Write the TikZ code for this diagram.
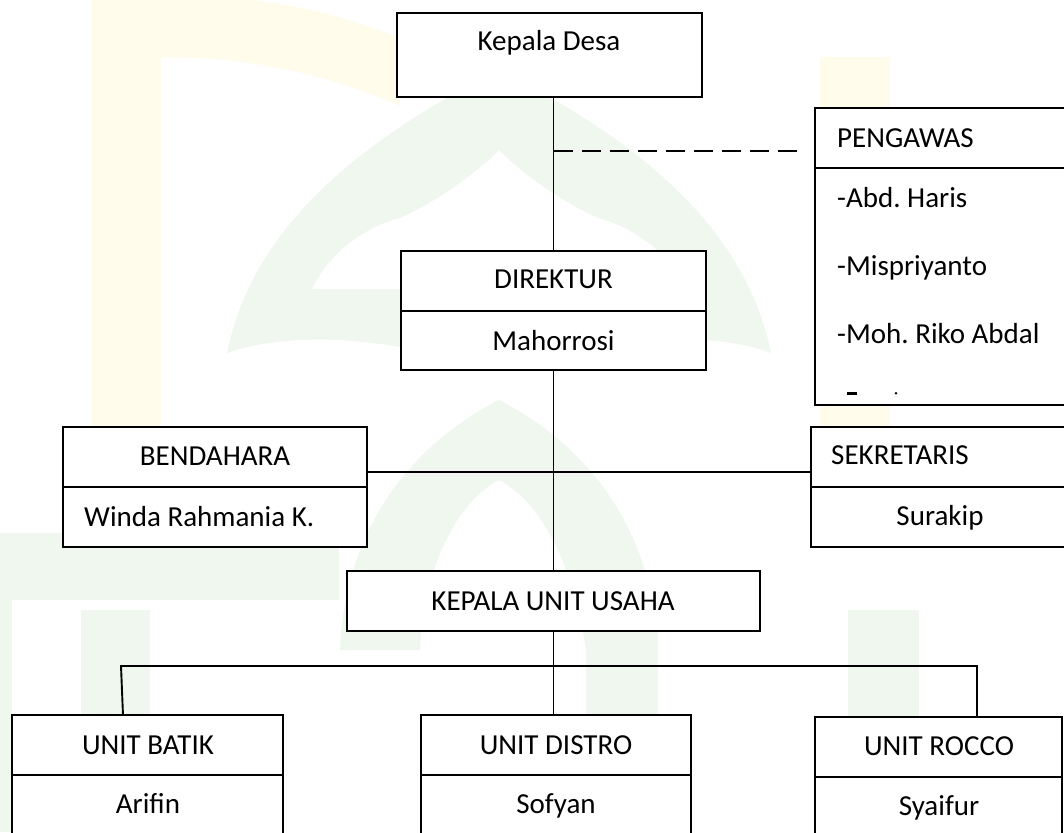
\documentclass[tikz,border=0pt]{standalone}
\usepackage{fontspec}
\setmainfont{Carlito}
\frenchspacing
\newcommand\orgfont{\fontsize{29}{34}\selectfont}
\definecolor{wmy}{HTML}{FFFCEC}
\definecolor{wmg}{HTML}{EFF7EF}
\tikzset{
  box/.style={draw=black, line width=2pt, fill=white, inner sep=0pt, outer sep=0pt, anchor=north west},
  txt/.style={font=\orgfont, inner sep=0pt, anchor=base},
  ltxt/.style={font=\orgfont, inner sep=0pt, anchor=base west},
  conn/.style={line width=1.9pt},
}
\begin{document}
\begin{tikzpicture}[x=1pt,y=-1pt]
\useasboundingbox (0,0) rectangle (1064,832);
% faint watermark
\fill[wmy] (92,0) rectangle (161,535);
\fill[wmy] (161,0) -- (250,0) .. controls (300,5) and (350,18) .. (400,38) -- (400,106) .. controls (330,75) and (250,57) .. (161,57) -- cycle;
\fill[wmy] (820,57) rectangle (890,500);
\fill[wmg, even odd rule] (227,353) .. controls (250,240) and (340,150) .. (499,70) .. controls (658,150) and (748,240) .. (771,353) .. controls (730,338) and (680,335) .. (600,347) -- (400,347) .. controls (330,335) and (270,338) .. (227,353) -- cycle
  (312,289) .. controls (330,250) and (370,225) .. (400,218) .. controls (440,200) and (480,170) .. (499,150) .. controls (518,170) and (558,200) .. (598,218) .. controls (628,225) and (668,250) .. (686,289) -- (312,289) -- cycle;
\fill[wmg, even odd rule] (340,650) .. controls (345,520) and (420,440) .. (499,400) .. controls (578,440) and (653,520) .. (658,650) -- cycle
  (420,650) .. controls (425,560) and (460,500) .. (499,480) .. controls (538,500) and (573,560) .. (586,650) -- cycle;
\fill[wmg] (0,533) rectangle (339,600);
\fill[wmg] (0,600) rectangle (12,832);
\fill[wmg] (81,610) rectangle (150,832);
\fill[wmg] (586,600) rectangle (658,832);
\fill[wmg] (848,610) rectangle (919,832);
% boxes
\node[box, minimum width=305pt, minimum height=84pt] (kd) at (397,13) {};
\node[box, minimum width=305pt, minimum height=60pt] (dir) at (401,251) {};
\node[box, minimum width=305pt, minimum height=59pt] (dirn) at (401,311) {};
\node[box, minimum width=265pt, minimum height=60pt] (peng) at (815,108) {};
\node[box, minimum width=265pt, minimum height=237pt] (pengn) at (815,168) {};
\node[box, minimum width=304pt, minimum height=60pt] (bend) at (63,427) {};
\node[box, minimum width=304pt, minimum height=60pt] (bendn) at (63,487) {};
\node[box, minimum width=258pt, minimum height=60pt] (sek) at (811,427) {};
\node[box, minimum width=258pt, minimum height=60pt] (sekn) at (811,487) {};
\node[box, minimum width=413pt, minimum height=60pt] (kuu) at (347,571) {};
\node[box, minimum width=271pt, minimum height=60pt] (batik) at (12,715) {};
\node[box, minimum width=271pt, minimum height=80pt] (batikn) at (12,775) {};
\node[box, minimum width=270pt, minimum height=60pt] (distro) at (421,715) {};
\node[box, minimum width=270pt, minimum height=80pt] (distron) at (421,775) {};
\node[box, minimum width=247pt, minimum height=60pt] (rocco) at (815,717) {};
\node[box, minimum width=247pt, minimum height=80pt] (roccon) at (815,777) {};
% texts
\node[txt] (tkd) at (549,51) {Kepala Desa};
\node[txt] (tdir) at (553.5,288) {DIREKTUR};
\node[txt] (tdirn) at (553.5,350) {Mahorrosi};
\node[ltxt] (tpeng) at (837,147) {PENGAWAS};
\node[ltxt] (tp1) at (837,207) {-Abd. Haris};
\node[ltxt] (tp2) at (837,275) {-Mispriyanto};
\node[ltxt] (tp3) at (837,343) {-Moh. Riko Abdal};
\fill (847,392) rectangle (857,394.5);
\fill (896,393.2) circle (1.4);
\node[txt] (tbend) at (215,465) {BENDAHARA};
\node[ltxt] (tbendn) at (84,526) {Winda Rahmania K.};
\node[ltxt] (tsek) at (831,464) {SEKRETARIS};
\node[txt] (tsekn) at (940,525) {Surakip};
\node[txt] (tkuu) at (553,610) {KEPALA UNIT USAHA};
\node[txt] (tbatik) at (148,754) {UNIT BATIK};
\node[txt] (tbatikn) at (148,813) {Arifin};
\node[txt] (tdistro) at (556,754) {UNIT DISTRO};
\node[txt] (tdistron) at (556,813) {Sofyan};
\node[txt] (trocco) at (939,755) {UNIT ROCCO};
\node[txt] (troccon) at (939,815) {Syaifur};
% connectors
\draw[conn] (dir.north |- kd.south) -- (dir.north);
\coordinate (dj) at (553.5,151);
\draw[conn, dash pattern=on 19pt off 9pt, shorten >=10pt] (dj) -- (dj -| peng.west);
\draw[conn] (dirn.south) -- (kuu.north);
\draw[conn] ([yshift=-15pt]bend.east) -- ([yshift=-15pt]sek.west);
\draw[conn] (kuu.south) -- (kuu.south |- distro.north);
\coordinate (bl) at (121,666);
\coordinate (br) at (977,666);
\draw[conn] ([xshift=-24.5pt]batik.north) -- (bl) -- (br) -- (br |- rocco.north);
\end{tikzpicture}
\end{document}
